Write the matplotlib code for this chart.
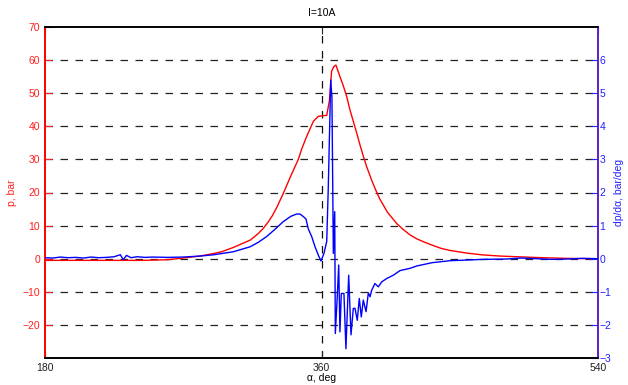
import matplotlib
matplotlib.use("Agg")
import matplotlib.pyplot as plt

plt.rcParams['font.family'] = ['Liberation Sans', 'DejaVu Sans']

# crank angle, deg and cylinder pressure, bar
p_deg = [180, 200, 220, 243.8, 260, 270, 280.9, 290, 295, 302.6, 308, 313.5,
         316, 319, 322, 325, 328, 331, 335.1, 340, 344.9, 347, 350.4,
         354.7, 357.9, 361, 363.4, 365.1, 366.6, 368, 369.4, 370.9, 372.0,
         374.0, 376.4, 378.5, 380.7, 382.9, 385.1, 387.2, 389.4, 393, 396,
         398, 403, 409, 413, 417.6, 422, 427, 432.6, 438, 443.7, 454.5, 465,
         476.2, 487, 497.7, 508, 519.6, 530, 540]
p_bar = [-0.5, -0.5, -0.5, -0.5, -0.3, 0.2, 0.8, 1.6, 2.1, 3.4, 4.5, 5.6,
         6.5, 7.7, 9.1, 10.9, 13.0, 15.6, 19.7, 25.0, 30.0, 33.0, 37.0,
         41.5, 43.0, 43.2, 43.3, 47.6, 56.7, 58.0, 58.5, 56.5, 55.0,
         52.5, 49.0, 45.0, 41.5, 38.0, 34.3, 31.0, 27.8, 23.3, 20.0,
         18.0, 14.0, 10.6, 8.9, 7.2, 6.0, 5.0, 4.0, 3.1, 2.5, 1.7, 1.15,
         0.8, 0.6, 0.4, 0.25, 0.1, 0.05, 0.0]

# pressure rise rate, bar/deg
dp_deg = [180, 185, 190, 195, 200, 205, 210, 215, 220, 225, 229, 231, 233,
          236, 240, 245, 250, 260, 270, 280.9, 290, 302.6, 313.5, 319,
          324.3, 330, 335.1, 340, 343.8, 346.0, 348.2, 349.9, 351.4, 353.6,
          355.8, 357.9, 359.7, 361.6, 363.4, 364.4, 366.0, 366.8, 367.7,
          368.6, 369.0, 370.3, 371.2, 372.0, 372.9, 374.6, 375.9, 377.7,
          379.2, 380.7, 381.8, 383.3, 384.6, 385.9, 387.2, 389, 390.5, 391.6,
          392.7, 394.8, 397, 399.2, 402.4, 406.7, 411.1, 417.6, 422, 432,
          443.7, 455, 465, 480, 490, 500, 510, 520, 530, 540]
dp_val = [0.03, 0.02, 0.05, 0.03, 0.04, 0.02, 0.05, 0.03, 0.04, 0.06, 0.12,
          -0.03, 0.1, 0.03, 0.06, 0.04, 0.05, 0.04, 0.05, 0.08, 0.12, 0.21,
          0.36, 0.5, 0.67, 0.9, 1.12, 1.28, 1.35, 1.35, 1.27, 1.2, 0.9, 0.67,
          0.36, 0.11, -0.07, 0.16, 0.52, 2.13, 5.4, 4.86, 0.16, 1.42, -2.26,
          -1.1, -0.19, -2.21, -1.05, -1.05, -2.72, -0.5, -2.3, -1.5, -1.5,
          -1.86, -1.2, -1.76, -1.25, -1.6, -1.03, -1.15, -0.95, -0.75, -0.85,
          -0.7, -0.6, -0.5, -0.36, -0.29, -0.22, -0.12, -0.06, -0.04, -0.02,
          -0.01, 0.02, 0.0, -0.02, -0.01, 0.01, 0.0]

x_ticks = [180, 360, 540]
p_ticks = list(range(-20, 71, 10))
dp_ticks = list(range(-3, 7))

fig = plt.figure(figsize=(6.28, 3.85), dpi=100)
ax = fig.add_axes([0.0717, 0.0701, 0.8805, 0.8598])
ax2 = ax.twinx()

ax.plot(p_deg, p_bar, color='#ff0000', lw=1.0, zorder=3)
ax2.plot(dp_deg, dp_val, color='#0000ff', lw=1.0, zorder=3)

ax.set_xlim(180, 540)
ax.set_ylim(-30, 70)
ax2.set_ylim(-3, 7)
ax.set_xticks(x_ticks)
ax.set_yticks(p_ticks)
ax2.set_yticks(dp_ticks)

# dashed grid lines and TDC marker
for y in p_ticks[:-1]:
    ax.axhline(y, color='#222222', lw=0.9, ls=(0, (6, 6)), zorder=1)
ax.axvline(360, color='#111111', lw=0.9, ls=(0, (6, 6)), zorder=1)

ax.tick_params(axis='y', colors='#ff2020', labelsize=7.5, direction='in',
               length=5, width=0.8)
ax.tick_params(axis='x', colors='#222222', labelsize=7.5, direction='in',
               length=5, width=0.8, top=True)
ax2.tick_params(axis='y', colors='#2020ff', labelsize=7.5, direction='in',
                length=5, width=0.8, pad=1)

ax.spines['left'].set_color('#ff0000')
ax.spines['left'].set_linewidth(1.4)
ax2.spines['left'].set_visible(False)
ax2.spines['right'].set_color('#5a22c8')
ax2.spines['right'].set_linewidth(1.4)
for s in ['top', 'bottom']:
    ax.spines[s].set_linewidth(1.2)
    ax2.spines[s].set_linewidth(1.2)
ax.spines['right'].set_visible(False)

ax.set_title('I=10A', fontsize=7.5, pad=8)
ax.set_xlabel('α, deg', fontsize=7.5, labelpad=0)
ax.set_ylabel('p, bar', fontsize=7.5, color='#ff2020', labelpad=4)
ax2.set_ylabel('dp/dα, bar/deg', fontsize=7.5, color='#2020ff', labelpad=2)

fig.savefig('out.png', dpi=100)
